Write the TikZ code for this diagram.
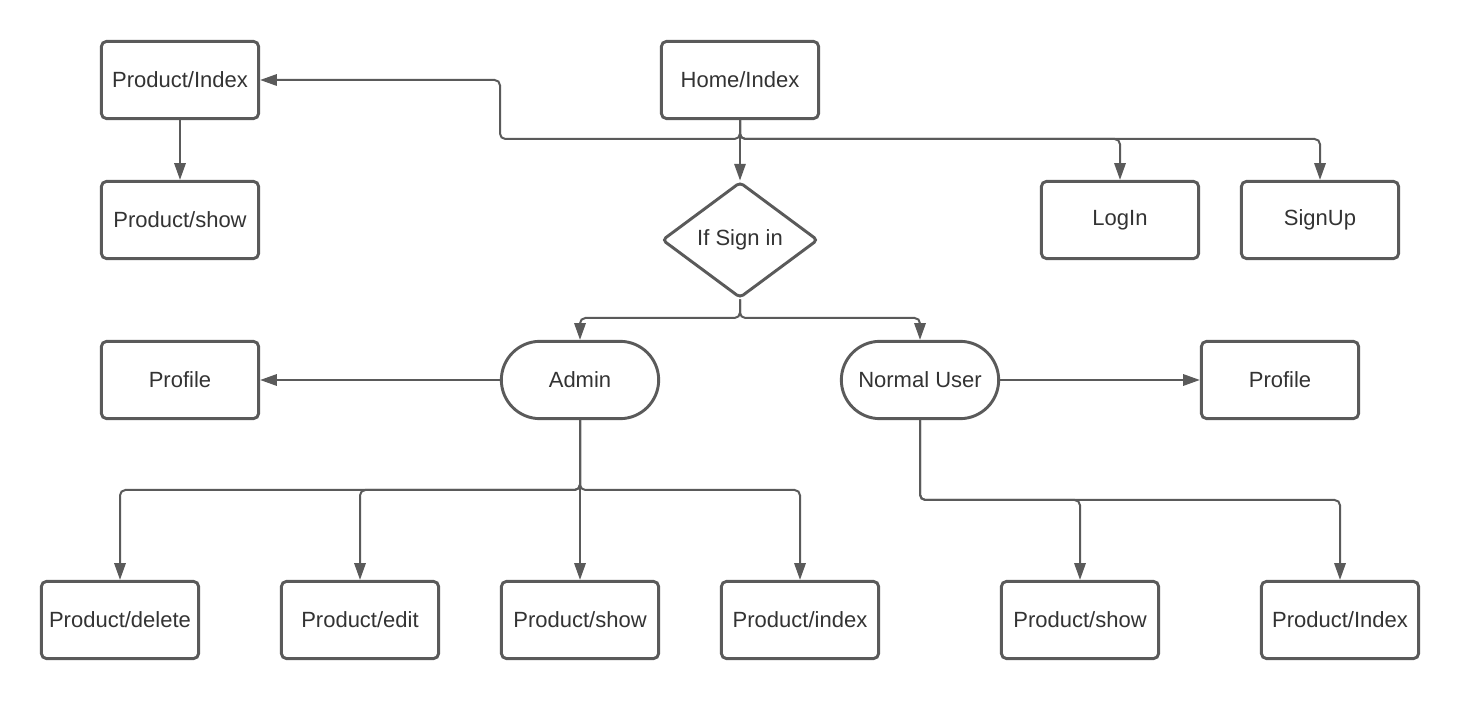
\documentclass[tikz,border=0pt]{standalone}
\usepackage{fontspec}
\setmainfont{Liberation Sans}
\usepackage{tikz}
\usetikzlibrary{arrows.meta}
\usetikzlibrary{positioning, shapes.geometric, shapes.misc}
\definecolor{edgegray}{HTML}{5A5A5A}
\definecolor{labelgray}{HTML}{333333}
\tikzset{
page box/.style = { rectangle, draw = edgegray, line width = 2.2pt, fill = white, minimum width = 118pt, minimum height = 58pt, rounded corners = 4pt, text = labelgray, font = \fontsize{16.5pt}{20pt}\selectfont },
role box/.style = { page box, rounded corners = 29pt },
check box/.style = { diamond, draw = edgegray, line width = 2.2pt, fill = white, minimum width = 117pt, minimum height = 87pt, aspect = 1.35, inner sep = 0pt, rounded corners = 3pt, text = labelgray, font = \fontsize{16.5pt}{20pt}\selectfont },
link/.style = { draw = edgegray, line width = 1.5pt, rounded corners = 4pt, -{Triangle[length = 12.5pt, width = 8.5pt]} },
}

\begin{document}
\begin{tikzpicture}[x = 0.75pt, y = 0.75pt]
    \useasboundingbox (0, 0) rectangle (1460, 700);
    \node[page box] (prodindex) at (180, 620) {Product/Index};
    \node[page box] (homeindex) at (740, 620) {Home/Index};
    \node[page box] (prodshow) at (180, 480) {Product/show};
    \node[check box] (signin) at (740, 460) {If Sign in};
    \node[page box] (login) at (1120, 480) {LogIn};
    \node[page box] (signup) at (1320, 480) {SignUp};
    \node[page box] (adminprofile) at (180, 320) {Profile};
    \node[role box] (admin) at (580, 320) {Admin};
    \node[role box] (normaluser) at (920, 320) {Normal User};
    \node[page box] (userprofile) at (1280, 320) {Profile};
    \node[page box] (admindelete) at (120, 80) {Product/delete};
    \node[page box] (adminedit) at (360, 80) {Product/edit};
    \node[page box] (adminshow) at (580, 80) {Product/show};
    \node[page box] (adminindex) at (800, 80) {Product/index};
    \node[page box] (usershow) at (1080, 80) {Product/show};
    \node[page box] (userindex) at (1340, 80) {Product/Index};
    \coordinate (homesplit) at (740, 561);
    \coordinate (signsplit) at (740, 382);
    \coordinate (adminsplit) at (580, 210);
    \coordinate (usersplit) at (920, 200);
    \path[link] (homeindex.south) -- (signin.north);
    \path[link] (homeindex.south) -- (homesplit) -- (500, 561) |- (prodindex.east);
    \path[link] (homeindex.south) -- (homesplit) -| (login.north);
    \path[link] (homeindex.south) -- (homesplit) -| (signup.north);
    \path[link] (prodindex.south) -- (prodshow.north);
    \path[link] (signin.south) -- (signsplit) -| (admin.north);
    \path[link] (signin.south) -- (signsplit) -| (normaluser.north);
    \path[link] (admin.west) -- (adminprofile.east);
    \path[link] (normaluser.east) -- (userprofile.west);
    \path[link] (admin.south) -- (adminsplit) -| (admindelete.north);
    \path[link] (admin.south) -- (adminsplit) -| (adminedit.north);
    \path[link] (admin.south) -- (adminshow.north);
    \path[link] (admin.south) -- (adminsplit) -| (adminindex.north);
    \path[link] (normaluser.south) -- (usersplit) -| (usershow.north);
    \path[link] (normaluser.south) -- (usersplit) -| (userindex.north);
\end{tikzpicture}
\end{document}
